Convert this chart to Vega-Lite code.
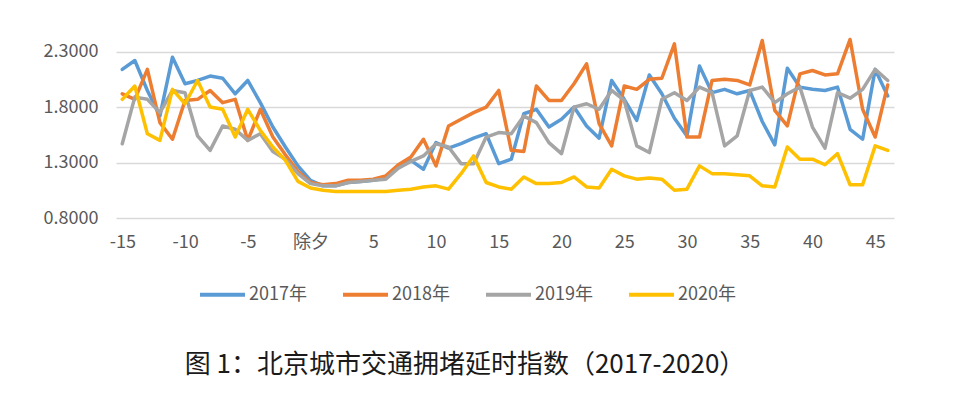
{
  "$schema": "https://vega.github.io/schema/vega-lite/v6.json",
  "width": 778,
  "height": 183,
  "autosize": {"type": "none"},
  "padding": {"left": 116, "top": 35, "right": 66, "bottom": 179},
  "background": "white",
  "config": {"view": {"stroke": null}},
  "title": {
    "text": "图 1：北京城市交通拥堵延时指数（2017-2020）",
    "orient": "bottom",
    "anchor": "middle",
    "dx": -40,
    "offset": 48,
    "font": "Noto Sans CJK SC",
    "fontSize": 26,
    "fontWeight": "normal",
    "color": "#1a1a1a"
  },
  "data": {
    "values": [
      {"d": -15, "2017年": 2.14, "2018年": 1.92, "2019年": 1.47, "2020年": 1.87},
      {"d": -14, "2017年": 2.22, "2018年": 1.87, "2019年": 1.89, "2020年": 1.99},
      {"d": -13, "2017年": 1.95, "2018年": 2.14, "2019年": 1.87, "2020年": 1.56},
      {"d": -12, "2017年": 1.72, "2018年": 1.66, "2019年": 1.75, "2020年": 1.50},
      {"d": -11, "2017年": 2.25, "2018年": 1.51, "2019年": 1.95, "2020年": 1.96},
      {"d": -10, "2017年": 2.01, "2018年": 1.86, "2019年": 1.93, "2020年": 1.83},
      {"d": -9, "2017年": 2.04, "2018年": 1.87, "2019年": 1.54, "2020年": 2.04},
      {"d": -8, "2017年": 2.08, "2018年": 1.95, "2019年": 1.41, "2020年": 1.80},
      {"d": -7, "2017年": 2.06, "2018年": 1.84, "2019年": 1.63, "2020年": 1.78},
      {"d": -6, "2017年": 1.92, "2018年": 1.87, "2019年": 1.60, "2020年": 1.53},
      {"d": -5, "2017年": 2.04, "2018年": 1.50, "2019年": 1.50, "2020年": 1.78},
      {"d": -4, "2017年": 1.84, "2018年": 1.78, "2019年": 1.56, "2020年": 1.59},
      {"d": -3, "2017年": 1.62, "2018年": 1.53, "2019年": 1.40, "2020年": 1.44},
      {"d": -2, "2017年": 1.44, "2018年": 1.37, "2019年": 1.33, "2020年": 1.32},
      {"d": -1, "2017年": 1.27, "2018年": 1.22, "2019年": 1.20, "2020年": 1.13},
      {"d": 0, "2017年": 1.14, "2018年": 1.12, "2019年": 1.11, "2020年": 1.07},
      {"d": 1, "2017年": 1.09, "2018年": 1.10, "2019年": 1.09, "2020年": 1.05},
      {"d": 2, "2017年": 1.09, "2018年": 1.11, "2019年": 1.09, "2020年": 1.04},
      {"d": 3, "2017年": 1.12, "2018年": 1.14, "2019年": 1.12, "2020年": 1.04},
      {"d": 4, "2017年": 1.13, "2018年": 1.14, "2019年": 1.13, "2020年": 1.04},
      {"d": 5, "2017年": 1.14, "2018年": 1.15, "2019年": 1.14, "2020年": 1.04},
      {"d": 6, "2017年": 1.16, "2018年": 1.18, "2019年": 1.15, "2020年": 1.04},
      {"d": 7, "2017年": 1.27, "2018年": 1.28, "2019年": 1.25, "2020年": 1.05},
      {"d": 8, "2017年": 1.32, "2018年": 1.35, "2019年": 1.31, "2020年": 1.06},
      {"d": 9, "2017年": 1.24, "2018年": 1.51, "2019年": 1.36, "2020年": 1.08},
      {"d": 10, "2017年": 1.48, "2018年": 1.27, "2019年": 1.47, "2020年": 1.09},
      {"d": 11, "2017年": 1.43, "2018年": 1.63, "2019年": 1.44, "2020年": 1.06},
      {"d": 12, "2017年": 1.47, "2018年": 1.69, "2019年": 1.29, "2020年": 1.20},
      {"d": 13, "2017年": 1.52, "2018年": 1.75, "2019年": 1.29, "2020年": 1.36},
      {"d": 14, "2017年": 1.56, "2018年": 1.80, "2019年": 1.53, "2020年": 1.12},
      {"d": 15, "2017年": 1.29, "2018年": 1.95, "2019年": 1.57, "2020年": 1.08},
      {"d": 16, "2017年": 1.33, "2018年": 1.41, "2019年": 1.56, "2020年": 1.06},
      {"d": 17, "2017年": 1.74, "2018年": 1.40, "2019年": 1.72, "2020年": 1.17},
      {"d": 18, "2017年": 1.78, "2018年": 1.99, "2019年": 1.66, "2020年": 1.11},
      {"d": 19, "2017年": 1.62, "2018年": 1.86, "2019年": 1.48, "2020年": 1.11},
      {"d": 20, "2017年": 1.69, "2018年": 1.86, "2019年": 1.38, "2020年": 1.12},
      {"d": 21, "2017年": 1.80, "2018年": 2.01, "2019年": 1.80, "2020年": 1.17},
      {"d": 22, "2017年": 1.63, "2018年": 2.19, "2019年": 1.83, "2020年": 1.08},
      {"d": 23, "2017年": 1.52, "2018年": 1.65, "2019年": 1.78, "2020年": 1.07},
      {"d": 24, "2017年": 2.04, "2018年": 1.45, "2019年": 1.95, "2020年": 1.24},
      {"d": 25, "2017年": 1.87, "2018年": 1.99, "2019年": 1.86, "2020年": 1.18},
      {"d": 26, "2017年": 1.68, "2018年": 1.96, "2019年": 1.45, "2020年": 1.15},
      {"d": 27, "2017年": 2.09, "2018年": 2.05, "2019年": 1.39, "2020年": 1.16},
      {"d": 28, "2017年": 1.92, "2018年": 2.06, "2019年": 1.87, "2020年": 1.15},
      {"d": 29, "2017年": 1.70, "2018年": 2.37, "2019年": 1.93, "2020年": 1.05},
      {"d": 30, "2017年": 1.54, "2018年": 1.53, "2019年": 1.86, "2020年": 1.06},
      {"d": 31, "2017年": 2.17, "2018年": 1.53, "2019年": 1.98, "2020年": 1.27},
      {"d": 32, "2017年": 1.93, "2018年": 2.04, "2019年": 1.93, "2020年": 1.20},
      {"d": 33, "2017年": 1.96, "2018年": 2.05, "2019年": 1.45, "2020年": 1.20},
      {"d": 34, "2017年": 1.92, "2018年": 2.04, "2019年": 1.54, "2020年": 1.19},
      {"d": 35, "2017年": 1.95, "2018年": 2.00, "2019年": 1.95, "2020年": 1.18},
      {"d": 36, "2017年": 1.67, "2018年": 2.40, "2019年": 1.98, "2020年": 1.09},
      {"d": 37, "2017年": 1.46, "2018年": 1.77, "2019年": 1.84, "2020年": 1.08},
      {"d": 38, "2017年": 2.15, "2018年": 1.63, "2019年": 1.92, "2020年": 1.44},
      {"d": 39, "2017年": 1.98, "2018年": 2.10, "2019年": 1.98, "2020年": 1.33},
      {"d": 40, "2017年": 1.96, "2018年": 2.13, "2019年": 1.62, "2020年": 1.33},
      {"d": 41, "2017年": 1.95, "2018年": 2.09, "2019年": 1.43, "2020年": 1.28},
      {"d": 42, "2017年": 1.98, "2018年": 2.10, "2019年": 1.93, "2020年": 1.38},
      {"d": 43, "2017年": 1.60, "2018年": 2.41, "2019年": 1.88, "2020年": 1.10},
      {"d": 44, "2017年": 1.51, "2018年": 1.78, "2019年": 1.96, "2020年": 1.10},
      {"d": 45, "2017年": 2.14, "2018年": 1.53, "2019年": 2.14, "2020年": 1.45},
      {"d": 46, "2017年": 1.90, "2018年": 2.00, "2019年": 2.04, "2020年": 1.41}
    ]
  },
  "transform": [
    {"fold": ["2017年", "2018年", "2019年", "2020年"], "as": ["year", "value"]}
  ],
  "mark": {"type": "line", "strokeWidth": 3.5, "strokeJoin": "round", "strokeCap": "round"},
  "encoding": {
    "x": {
      "field": "d",
      "type": "quantitative",
      "scale": {"domain": [-15.5, 46.5], "nice": false, "zero": false},
      "axis": {
        "title": null,
        "values": [-15, -10, -5, 0, 5, 10, 15, 20, 25, 30, 35, 40, 45],
        "labelExpr": "datum.value == 0 ? '除夕' : '' + datum.value",
        "grid": false,
        "ticks": false,
        "domain": false,
        "labelFont": "Liberation Sans Narrow, Noto Sans CJK SC",
        "labelFontSize": 18,
        "labelColor": "#595959",
        "labelPadding": 15
      }
    },
    "y": {
      "field": "value",
      "type": "quantitative",
      "scale": {"domain": [0.8, 2.45], "nice": false, "zero": false},
      "axis": {
        "title": null,
        "values": [0.8, 1.3, 1.8, 2.3],
        "format": ".4f",
        "grid": true,
        "gridColor": "#D9D9D9",
        "gridWidth": 1.5,
        "ticks": false,
        "domain": false,
        "labelFont": "Liberation Sans Narrow, Noto Sans CJK SC",
        "labelFontSize": 18,
        "labelColor": "#595959",
        "labelPadding": 18
      }
    },
    "color": {
      "field": "year",
      "type": "nominal",
      "scale": {
        "domain": ["2017年", "2018年", "2019年", "2020年"],
        "range": ["#5B9BD5", "#ED7D31", "#A5A5A5", "#FFC000"]
      },
      "legend": {
        "title": null,
        "orient": "none",
        "direction": "horizontal",
        "legendX": 82,
        "legendY": 235,
        "symbolType": "stroke",
        "symbolSize": 2025,
        "symbolStrokeWidth": 4,
        "labelFont": "Liberation Sans Narrow, Noto Sans CJK SC",
        "labelFontSize": 18,
        "labelColor": "#595959",
        "labelOffset": 2,
        "columnPadding": 28
      }
    }
  }
}
